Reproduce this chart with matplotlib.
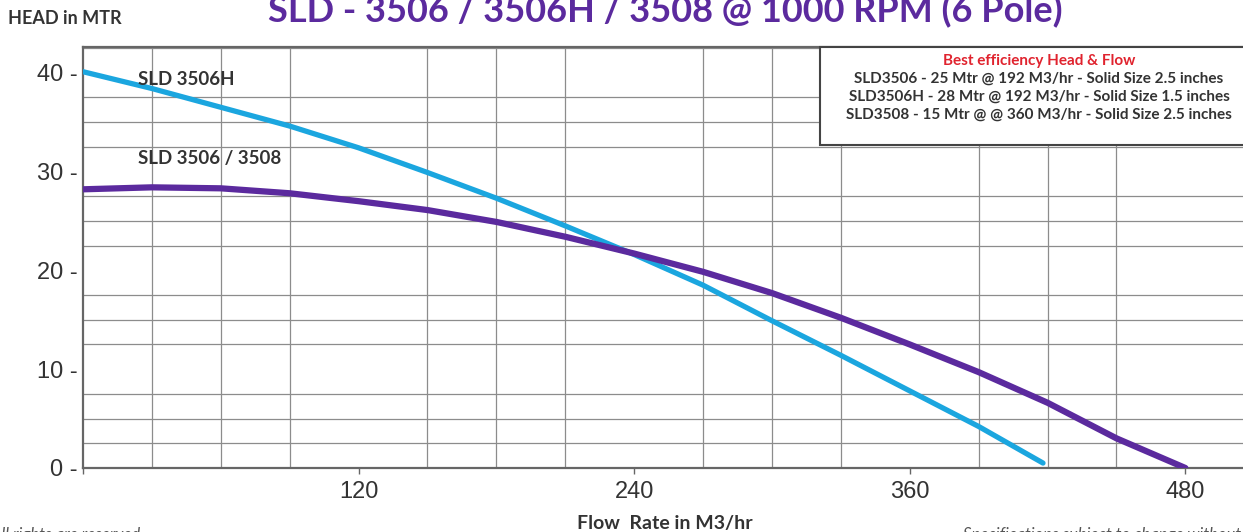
import numpy as np
import matplotlib
matplotlib.use("Agg")
import matplotlib.pyplot as plt
from matplotlib.patches import Rectangle

# flow (M3/hr) and head (mtr)
flow_h = [0, 30, 60, 90, 120, 150, 180, 210, 240, 270, 300, 330, 360, 390, 418]
head_h = [40.1, 38.4, 36.5, 34.6, 32.4, 29.9, 27.3, 24.5, 21.6, 18.5, 14.9, 11.4, 7.8, 4.2, 0.5]

flow_std = [0, 30, 60, 90, 120, 150, 180, 210, 240, 270, 300, 330, 360, 390, 420, 450, 480]
head_std = [28.2, 28.4, 28.3, 27.8, 27.0, 26.1, 24.9, 23.4, 21.7, 19.85, 17.7, 15.2, 12.5, 9.7, 6.6, 3.0, 0.0]

xticks = [0, 120, 240, 360, 480]
xtick_labels = ["", "120", "240", "360", "480"]
yticks = [0, 10, 20, 30, 40]
ytick_labels = ["0", "10", "20", "30", "40"]

title = "SLD - 3506 / 3506H / 3508 @ 1000 RPM (6 Pole)"
box_title = "Best efficiency Head & Flow"
box_lines = [
    "SLD3506 - 25 Mtr @ 192 M3/hr - Solid Size 2.5 inches",
    "SLD3506H - 28 Mtr @ 192 M3/hr - Solid Size 1.5 inches",
    "SLD3508 - 15 Mtr @ @ 360 M3/hr - Solid Size 2.5 inches",
]

CYAN = "#1ba6df"
PURPLE = "#5b2a9e"
GRID = "#8c8c8c"
DARK = "#333333"
NARROW = ["Liberation Sans Narrow", "Liberation Sans", "DejaVu Sans"]
BOLDF = ["Lato", "Open Sans", "DejaVu Sans"]

W, H = 1243, 532
fig = plt.figure(figsize=(W / 100, H / 100), dpi=100)
ax = fig.add_axes([83 / W, (H - 468) / H, (1252 - 83) / W, (468 - 47) / H])

ax.set_xlim(0, 509)
ax.set_ylim(0, 42.6)
ax.set_xticks(np.arange(0, 510, 30), minor=True)
ax.set_yticks(np.arange(0, 42.6, 2.5), minor=True)
ax.grid(which="minor", color=GRID, lw=0.9)
ax.set_axisbelow(True)

ax.set_xticks(xticks)
ax.set_xticklabels(xtick_labels, family=NARROW, fontsize=17, color=DARK)
ax.set_yticks(yticks)
ax.set_yticklabels([t + " -" for t in ytick_labels], family=NARROW,
                   fontsize=17, color=DARK)
ax.tick_params(axis="x", which="major", length=4, width=1, color="#666666", pad=5)
ax.tick_params(axis="y", which="major", length=0, pad=4)
ax.tick_params(which="minor", length=0)
for s in ax.spines.values():
    s.set_color("#666666")
    s.set_linewidth(1.6)

ax.plot(flow_h, head_h, color=CYAN, lw=3.8, solid_capstyle="round",
        solid_joinstyle="round", zorder=3)
ax.plot(flow_std, head_std, color=PURPLE, lw=4.5, solid_capstyle="round",
        solid_joinstyle="round", zorder=3)

ax.text(24, 39.3, "SLD 3506H", family=BOLDF, weight="bold", fontsize=13.5,
        color=DARK, va="center", zorder=4)
ax.text(24, 31.3, "SLD 3506 / 3508", family=BOLDF, weight="bold", fontsize=13.5,
        color=DARK, va="center", zorder=4)

# best efficiency box
fig.patches.append(Rectangle((820 / W, 1 - 145 / H), 500 / W, 98 / H,
                             transform=fig.transFigure, facecolor="white",
                             edgecolor="#444444", lw=1.5, zorder=5))
bx = 1039 / W
fig.text(bx, 1 - 61 / H, box_title, family=BOLDF, weight="bold", fontsize=11,
         color="#e0232e", ha="center", va="center", zorder=6)
for i, line in enumerate(box_lines):
    fig.text(bx, 1 - (79 + 18 * i) / H, line, family=BOLDF, weight="bold",
             fontsize=11, color=DARK, ha="center", va="center", zorder=6)

fig.text(665 / W, 1 - 22 / H, title, family=BOLDF, weight="bold", fontsize=26,
         color=PURPLE, ha="center", va="baseline")
fig.text(8 / W, 1 - 19 / H, "HEAD in MTR", family=BOLDF, weight="bold",
         fontsize=13, color=DARK, va="center")
fig.text(665 / W, 1 - 523 / H, "Flow  Rate in M3/hr", family=BOLDF,
         weight="bold", fontsize=14, color=DARK, ha="center", va="center")
fig.text(-8 / W, 1 - 527 / H, "All rights are reserved", family=BOLDF,
         style="italic", fontsize=12, color="#555555", va="top")
fig.text(963 / W, 1 - 527 / H, "Specifications subject to change without notice",
         family=BOLDF, style="italic", fontsize=12, color="#555555", va="top")

fig.savefig("out.png", dpi=100)
